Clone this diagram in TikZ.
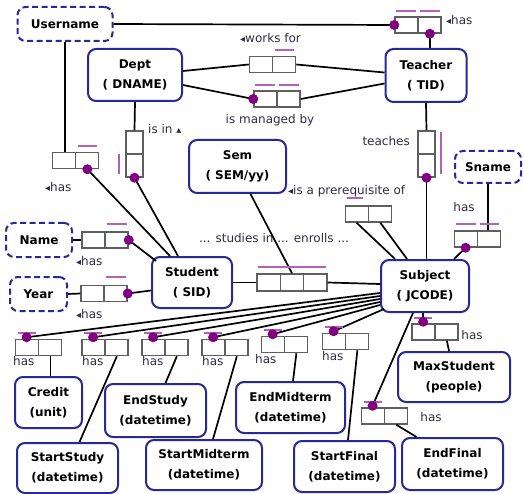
\documentclass[tikz,border=0pt]{standalone}
\usepackage{fontspec}
\setmainfont{DejaVu Sans}
\usetikzlibrary{calc}
\definecolor{entblue}{RGB}{40,40,150}
\definecolor{relgray}{RGB}{95,95,95}
\definecolor{dotpur}{RGB}{128,0,128}
\definecolor{barpur}{RGB}{180,95,185}
\definecolor{lblcol}{RGB}{45,45,65}
\newcommand{\ltri}{{\fontsize{10}{10}\selectfont ◂}}
\newcommand{\utri}{{\fontsize{10}{10}\selectfont ▴}}
\tikzset{
 ent/.style={draw=entblue, line width=2, rounded corners=8, fill=white, align=center, inner sep=0, font=\fontsize{12}{20}\selectfont\bfseries, text=black},
 entd/.style={ent, dash pattern=on 6 off 3.5},
 rel/.style={draw=relgray, line width=1.5, inner sep=0, minimum width=46, minimum height=16, fill=white},
 rel2/.style={rel, path picture={\draw[relgray,line width=1.5] (path picture bounding box.north) -- (path picture bounding box.south);}},
 relv/.style={rel, minimum width=17, minimum height=46, path picture={\draw[relgray,line width=1.5] (path picture bounding box.west) -- (path picture bounding box.east);}},
 rel3/.style={rel, minimum width=70, minimum height=17, path picture={\draw[relgray,line width=1.5] ($(path picture bounding box.north west)!1/3!(path picture bounding box.north east)$) -- ($(path picture bounding box.south west)!1/3!(path picture bounding box.south east)$) ($(path picture bounding box.north west)!2/3!(path picture bounding box.north east)$) -- ($(path picture bounding box.south west)!2/3!(path picture bounding box.south east)$);}},
 conn/.style={draw=black, line width=1.7},
 lbl/.style={font=\fontsize{12}{14}\selectfont, text=lblcol, inner sep=0, text height=9, text depth=3},
 pdot/.style={fill=dotpur},
 pbar/.style={draw=barpur, line width=1.6},
}
\begin{document}
\begin{tikzpicture}[x=1pt,y=-1pt]
\useasboundingbox (0,0) rectangle (524,494);
% entities
\node[entd, minimum width=95, minimum height=34] (user) at (65,24) {Username};
\node[ent, minimum width=94, minimum height=52] (dept) at (135,75) {Dept\\( DNAME)};
\node[ent, minimum width=81, minimum height=53] (teacher) at (426,75.5) {Teacher\\( TID)};
\node[ent, minimum width=97, minimum height=53] (sem) at (237.5,166.5) {Sem\\( SEM/yy)};
\node[entd, minimum width=66, minimum height=32] (sname) at (488,167) {Sname};
\node[entd, minimum width=66, minimum height=34] (name) at (39,240) {Name};
\node[entd, minimum width=57, minimum height=34] (year) at (38.5,294) {Year};
\node[ent, minimum width=80, minimum height=51] (student) at (192,282.5) {Student\\( SID)};
\node[ent, minimum width=88, minimum height=52] (subject) at (425,286) {Subject\\( JCODE)};
\node[ent, minimum width=112, minimum height=50] (maxst) at (454,377) {MaxStudent\\(people)};
\node[ent, minimum width=67, minimum height=51] (credit) at (48.5,402.5) {Credit\\(unit)};
\node[ent, minimum width=101, minimum height=53] (endstudy) at (155.5,410.5) {EndStudy\\(datetime)};
\node[ent, minimum width=101, minimum height=50] (startstudy) at (67.5,468) {StartStudy\\(datetime)};
\node[ent, minimum width=116, minimum height=50] (startmid) at (204,465) {StartMidterm\\(datetime)};
\node[ent, minimum width=109, minimum height=51] (endmid) at (290.5,407.5) {EndMidterm\\(datetime)};
\node[ent, minimum width=101, minimum height=51] (startfinal) at (344.5,466.5) {StartFinal\\(datetime)};
\node[ent, minimum width=101, minimum height=52] (endfinal) at (452.5,464) {EndFinal\\(datetime)};
% relationship boxes
\node[rel2] (rUT) at (418,25) {};
\node[rel2] (rWF) at (272.5,64.5) {};
\node[rel2] (rMB) at (277,99) {};
\node[relv] (rIsIn) at (134.5,154) {};
\node[rel2] (rUS) at (75.5,160.5) {};
\node[rel2] (rName) at (105,240) {};
\node[rel2] (rYear) at (104,293.5) {};
\node[rel3] (rSE) at (292,282.5) {};
\node[relv] (rTeach) at (426.5,154) {};
\node[rel2] (rPre) at (368.5,214) {};
\node[rel2] (rSname) at (477.5,239) {};
\node[rel2] (rMax) at (435,332) {};
\node[rel2] (rEF) at (384.5,416) {};
\node[rel2] (rB1) at (38.5,347.5) {};
\node[rel2] (rB2) at (105,347.5) {};
\node[rel2] (rB3) at (165,347.5) {};
\node[rel2] (rB4) at (225,347.5) {};
\node[rel2] (rB5) at (284.5,344.5) {};
\node[rel2] (rB6) at (345.5,341.5) {};
% dot coordinates
\coordinate (dUT1) at (rUT.west);
\coordinate (dUT2) at ($(rUT.south)!0.5!(rUT.south east)$);
\coordinate (dMB) at (rMB.west);
\coordinate (dIsIn) at (rIsIn.south);
\coordinate (dTeach) at (rTeach.south);
\coordinate (dUS) at ($(rUS.south)!0.5!(rUS.south east)$);
\coordinate (dName) at (rName.east);
\coordinate (dYear) at (rYear.east);
\coordinate (dSn) at ($(rSname.south west)!0.5!(rSname.south)$);
\foreach \r in {Max,EF,B1,B2,B3,B4,B5,B6}{
  \coordinate (d\r) at ([yshift=1.5]$(r\r.north west)!0.5!(r\r.north)$);
}
\foreach \r in {Max,EF,B1,B2,B3,B4,B5,B6}{
  \coordinate (c\r) at ($(r\r.south)!0.5!(r\r.south east)$);
}
% connectors
\draw[conn] (user.east) -- (dUT1);
\draw[conn] (dUT2) -- (dUT2 |- teacher.north);
\draw[conn] ([yshift=4]dept.east) -- (rWF.west);
\draw[conn] (rWF.east) -- ([yshift=3]teacher.west);
\draw[conn] ([yshift=-10]dept.east) -- (dMB);
\draw[conn] (rMB.east) -- ([yshift=-8]teacher.west);
\draw[conn] (dept.south) -- (rIsIn.north);
\draw[conn] (dIsIn) -- ([xshift=-14]student.north);
\draw[conn] (user.south) -- (user.south |- rUS.north);
\draw[conn] (dUS) -- ([xshift=-22]student.north);
\draw[conn] (name.east) -- (rName.west);
\draw[conn] (dName) -- ([xshift=5,yshift=-5]student.north west);
\draw[conn] (year.east) -- (rYear.west);
\draw[conn] (dYear) -- ([yshift=-8]student.west);
\draw[conn] (student.east) -- (rSE.west);
\draw[conn] (rSE.east) -- ([yshift=2]subject.west);
\draw[conn] ([xshift=13]sem.south) -- (rSE.north);
\draw[conn] (teacher.south) -- (rTeach.north);
\draw[conn] (dTeach) -- (dTeach |- subject.north);
\draw[conn] ($(rPre.south west)!0.5!(rPre.south)$) -- ([xshift=-30]subject.north);
\draw[conn] ($(rPre.south)!0.5!(rPre.south east)$) -- ([xshift=-18]subject.north);
\draw[conn] (sname.south) -- (sname.south |- rSname.north);
\draw[conn] (dSn) -- ([xshift=29]subject.north);
\draw[conn] (dMax |- subject.south) -- (dMax);
\draw[conn] (cMax) -- ([xshift=-5]maxst.north);
\draw[conn] ([xshift=-12]subject.south) -- (dEF);
\draw[conn] (cEF) -- ([xshift=-36]endfinal.north);
\draw[conn] ([yshift=-7]subject.west) -- (dB1);
\draw[conn] ([yshift=-10]subject.west) -- (dB2);
\draw[conn] ([yshift=-13]subject.west) -- (dB3);
\draw[conn] ([yshift=-16]subject.west) -- (dB4);
\draw[conn] ([yshift=-19]subject.west) -- (dB5);
\draw[conn] ([xshift=4,yshift=-23]subject.west) -- (dB6);
\draw[conn] (cB1) -- (cB1 |- credit.north);
\draw[conn] (cB2) -- ([xshift=12]startstudy.north);
\draw[conn] (cB3) -- ([xshift=10]endstudy.north);
\draw[conn] (cB4) -- ([xshift=9]startmid.north);
\draw[conn] (cB5) -- ([xshift=2.5]endmid.north);
\draw[conn] (cB6) -- ([xshift=3.5]startfinal.north);
% purple bars
\draw[pbar] ([xshift=2,yshift=5]rUT.north west) -- ([xshift=-2,yshift=5]rUT.north);
\draw[pbar] ([xshift=2,yshift=5]rUT.north) -- ([xshift=-2,yshift=5]rUT.north east);
\draw[pbar] ([xshift=2,yshift=6]rWF.north) -- ([xshift=-2,yshift=6]rWF.north east);
\draw[pbar] ([xshift=2,yshift=5]rMB.north west) -- ([xshift=-2,yshift=5]rMB.north);
\draw[pbar] ([xshift=2,yshift=5]rMB.north) -- ([xshift=-2,yshift=5]rMB.north east);
\draw[pbar] ([xshift=-6]rIsIn.west) -- ([xshift=-6,yshift=4]rIsIn.south west);
\draw[pbar] ([xshift=5,yshift=-2]rTeach.north east) -- ([xshift=5,yshift=4]rTeach.south east);
\draw[pbar] ([xshift=2,yshift=6]rUS.north) -- ([xshift=-2,yshift=6]rUS.north east);
\draw[pbar] ([xshift=2,yshift=7]rName.north) -- ([xshift=-2,yshift=7]rName.north east);
\draw[pbar] ([xshift=2,yshift=8]rYear.north) -- ([xshift=-2,yshift=8]rYear.north east);
\draw[pbar] ([xshift=2,yshift=6]rSE.north west) -- ([xshift=-2,yshift=6]rSE.north east);
\draw[pbar] ([xshift=2,yshift=7]rPre.north west) -- ([xshift=-6,yshift=7]rPre.north);
\draw[pbar] ([xshift=2,yshift=6]rSname.north west) -- ([xshift=-2,yshift=6]rSname.north);
\draw[pbar] ([xshift=2,yshift=6]rSname.north) -- ([xshift=-2,yshift=6]rSname.north east);
\foreach \r in {Max,EF,B1,B2,B3,B4,B5,B6}{
  \draw[pbar] ([xshift=3,yshift=5.5]r\r.north west) -- ([xshift=-3,yshift=5.5]r\r.north);
}
% purple dots
\foreach \d in {dUT1,dUT2,dMB,dIsIn,dTeach,dUS,dName,dYear,dSn,dMax,dEF,dB1,dB2,dB3,dB4,dB5,dB6}{
  \fill[pdot] (\d) circle[radius=5];
}
% labels
\node[lbl, anchor=west] (lUT) at (446,22) {\ltri has};
\node[lbl, anchor=west] (lWF) at (240,40) {\ltri works for};
\node[lbl] (lMB) at (270,121) {is managed by};
\node[lbl, anchor=west] (lIsIn) at (148,131) {is in \utri};
\node[lbl, anchor=west] (lUS) at (45,189) {\ltri has};
\node[lbl, anchor=west] (lName) at (76,262) {\ltri has};
\node[lbl, anchor=west] (lYear) at (76,315) {\ltri has};
\node[lbl] (lSE) at (274,240) {... studies in ... enrolls ...};
\node[lbl, anchor=west] (lPre) at (288,192) {\ltri is a prerequisite of};
\node[lbl, anchor=east] (lTeach) at (410,143) {teaches};
\node[lbl] (lSn) at (464,209) {has};
\node[lbl] (lMax) at (472,336) {has};
\node[lbl] (lEF) at (431,418) {has};
\node[lbl, anchor=west] (lB1) at (13,362) {has};
\node[lbl, anchor=west] (lB2) at (82,362) {has};
\node[lbl, anchor=west] (lB3) at (142,362) {has};
\node[lbl, anchor=west] (lB4) at (202,362) {has};
\node[lbl, anchor=west] (lB5) at (255,360) {has};
\node[lbl, anchor=west] (lB6) at (322,357) {has};
\end{tikzpicture}
\end{document}
